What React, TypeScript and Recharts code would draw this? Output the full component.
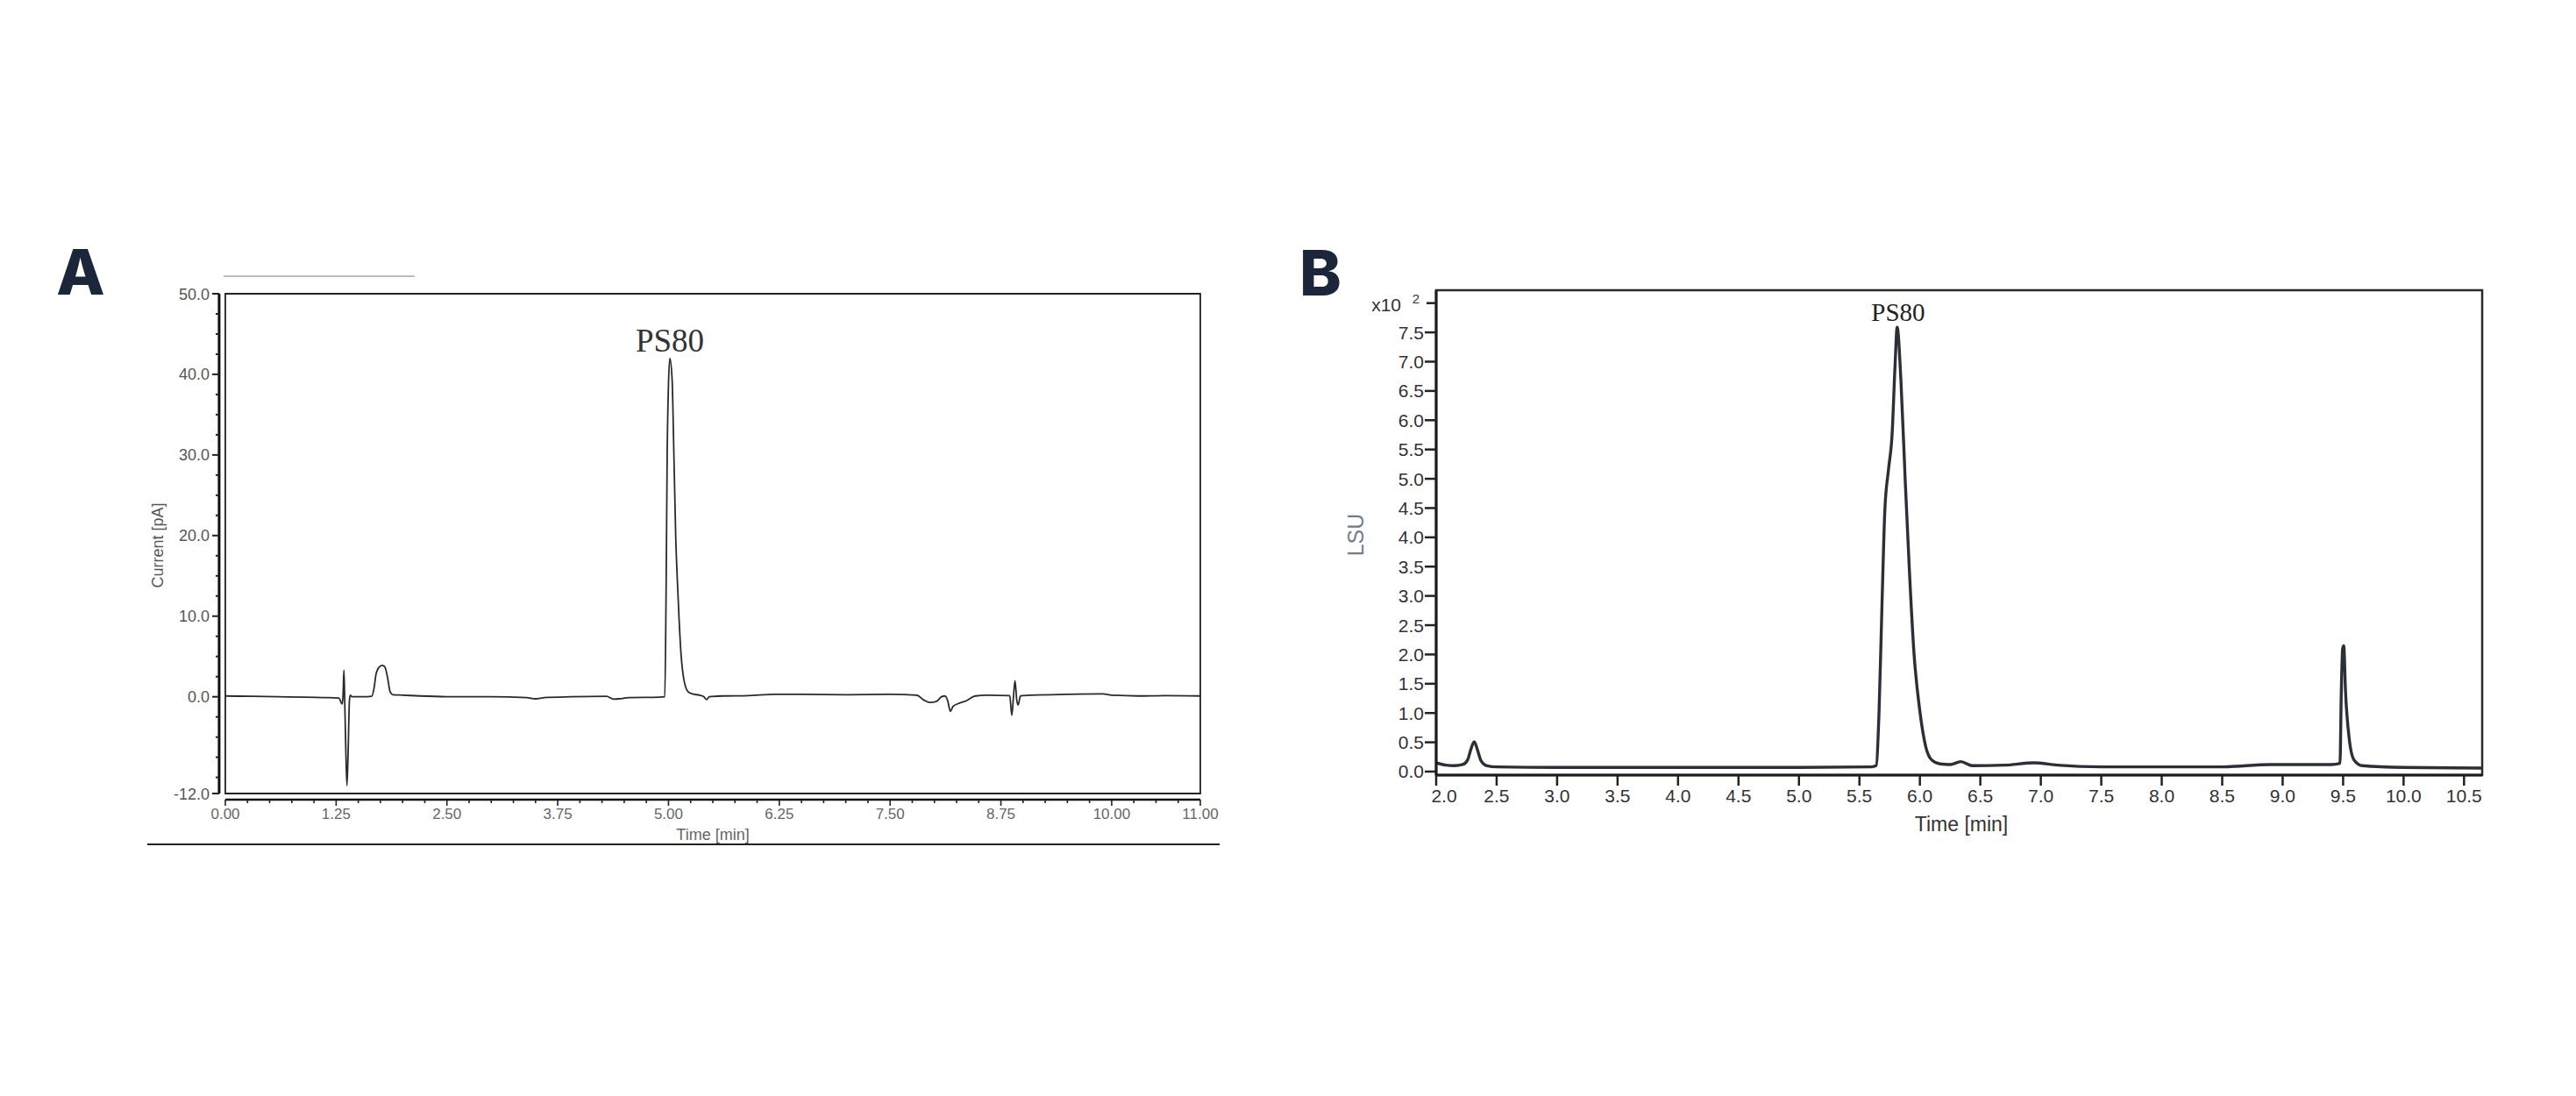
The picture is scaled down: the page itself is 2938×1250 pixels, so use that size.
import React from 'react';
import { LineChart, Line, XAxis, YAxis, ReferenceArea, ReferenceLine } from 'recharts';

// ---- Panel A: CAD trace, current [pA] vs time [min] ----
const A_TIME = [
  0.0, 0.3, 0.6, 0.9, 1.1, 1.28, 1.318, 1.328, 1.338, 1.346, 1.358, 1.372, 1.385, 1.4, 1.41, 1.43,
  1.6, 1.65, 1.68, 1.7, 1.73, 1.77, 1.8, 1.83, 1.86, 1.89, 2.0, 2.2, 2.6, 3.0, 3.4, 3.5, 3.6, 3.9,
  4.3, 4.38, 4.45, 4.55, 4.9, 4.958, 4.972, 4.985, 4.999, 5.015, 5.041, 5.057, 5.081, 5.107, 5.14,
  5.174, 5.223, 5.272, 5.35, 5.4, 5.43, 5.46, 5.6, 5.9, 6.2, 6.5, 7.0, 7.5, 7.8, 7.88, 7.95, 8.02,
  8.08, 8.12, 8.15, 8.18, 8.21, 8.28, 8.36, 8.46, 8.6, 8.85, 8.873, 8.892, 8.909, 8.929, 8.945,
  8.971, 9.1, 9.5, 9.9, 10.0, 10.3, 10.6, 11.0,
];
const A_CURRENT = [
  0.1, 0.05, 0.0, -0.05, -0.1, -0.15, -0.9, 0.2, 3.3, 0.0, -6.0, -11.0, -7.0, -0.5, 0.2, 0.0,
  0.0, 0.05, 1.2, 2.8, 3.6, 3.9, 3.7, 2.4, 0.6, 0.25, 0.2, 0.1, 0.0, 0.0, -0.1, -0.25, -0.1, 0.0,
  0.05, -0.3, -0.25, -0.1, -0.05, 0.0, 12.0, 30.0, 38.5, 42.0, 39.3, 32.0, 20.0, 12.7, 5.5,
  2.1, 0.6, 0.35, 0.2, 0.0, -0.35, 0.0, 0.1, 0.15, 0.3, 0.3, 0.25, 0.3, 0.2, -0.4, -0.7, -0.6,
  0.0, 0.1, -0.5, -1.8, -1.2, -0.8, -0.5, 0.1, 0.2, 0.15, -2.3, 0.0, 2.0, -0.4, -1.0,
  0.1, 0.2, 0.3, 0.35, 0.2, 0.1, 0.15, 0.1,
];
const A_X_LABELS = [0, 1.25, 2.5, 3.75, 5, 6.25, 7.5, 8.75, 10, 11];
const A_Y_LABELS = [-12, 0, 10, 20, 30, 40, 50];
const A_X_TICKS: number[] = [];
for (let i = 0; i <= 44; i++) A_X_TICKS.push(i * 0.25);
const A_Y_TICKS: number[] = [-12];
for (let i = -4; i <= 20; i++) A_Y_TICKS.push(i * 2.5);

// ---- Panel B: FLD trace, LSU (x10^2) vs time [min] ----
const B_TIME = [
  2.0, 2.08, 2.15, 2.22, 2.26, 2.29, 2.315, 2.34, 2.37, 2.42, 2.5, 3.0, 4.0, 5.0, 5.6, 5.638,
  5.662, 5.686, 5.71, 5.74, 5.77, 5.795, 5.812, 5.843, 5.879, 5.915, 5.951, 6.0, 6.048, 6.097,
  6.169, 6.25, 6.338, 6.435, 6.7, 6.942, 7.136, 7.5, 8.0, 8.5, 8.9, 9.4, 9.474, 9.485, 9.496,
  9.505, 9.52, 9.55, 9.59, 9.66, 10.0, 10.65,
];
const B_LSU = [
  0.15, 0.11, 0.1, 0.12, 0.2, 0.4, 0.51, 0.38, 0.19, 0.1, 0.08, 0.07, 0.07, 0.07, 0.08, 0.1,
  1.0, 2.8, 4.45, 5.15, 5.75, 6.95, 7.59, 6.69, 4.96, 3.36, 2.03, 1.03, 0.43, 0.2,
  0.13, 0.12, 0.17, 0.1, 0.11, 0.15, 0.11, 0.08, 0.08, 0.08, 0.12, 0.12, 0.14, 1.36, 2.1,
  2.15, 1.36, 0.57, 0.2, 0.1, 0.07, 0.06,
];
const B_X_TICKS = [2.0, 2.5, 3.0, 3.5, 4.0, 4.5, 5.0, 5.5, 6.0, 6.5, 7.0, 7.5, 8.0, 8.5, 9.0, 9.5, 10.0, 10.5];
const B_Y_TICKS = [0, 0.5, 1.0, 1.5, 2.0, 2.5, 3.0, 3.5, 4.0, 4.5, 5.0, 5.5, 6.0, 6.5, 7.0, 7.5, 8.0];

const aData = A_TIME.map((t, i) => ({ t, v: A_CURRENT[i] }));
const bData = B_TIME.map((t, i) => ({ t, v: B_LSU[i] }));

const SANS = '"Liberation Sans", Arial, sans-serif';
const SERIF = '"Liberation Serif", "Times New Roman", serif';

// axis lines of panel A sit a few px outside the frame
const A_GAP_X = 0.07;
const A_GAP_Y = 0.76;

const AXTick = (props: any) => {
  const { x, y, payload } = props;
  const v = payload.value;
  const major = A_X_LABELS.includes(v);
  const ay = y + 7;
  return (
    <g>
      <line x1={x} x2={x} y1={ay} y2={ay + (major ? 7 : 4)} stroke="#222" strokeWidth={1.6} />
      {major && (
        <text x={x} y={y + 29} textAnchor="middle" fontSize={17} fill="#666" fontFamily={SANS}>
          {v.toFixed(2)}
        </text>
      )}
    </g>
  );
};

const AYTick = (props: any) => {
  const { x, y, payload } = props;
  const v = payload.value;
  const major = A_Y_LABELS.includes(v);
  const ax = x - 7;
  return (
    <g>
      <line x1={ax} x2={ax - (major ? 8 : 4)} y1={y} y2={y} stroke="#222" strokeWidth={2} />
      {major && (
        <text x={ax - 11} y={y + 6.5} textAnchor="end" fontSize={18} fill="#555" fontFamily={SANS}>
          {v.toFixed(1)}
        </text>
      )}
    </g>
  );
};

const BXTick = (props: any) => {
  const { x, y, payload, index } = props;
  const v = payload.value;
  return (
    <g>
      <line x1={x} x2={x} y1={y} y2={y + 12} stroke="#222" strokeWidth={2.5} />
      <text x={x + (index === 0 ? 9 : 0)} y={y + 30.5} textAnchor="middle" fontSize={21} fill="#333" fontFamily={SANS}>
        {v.toFixed(1)}
      </text>
    </g>
  );
};

const BYTick = (props: any) => {
  const { x, y, payload } = props;
  const v = payload.value;
  if (v === 8) {
    return (
      <g>
        <line x1={x} x2={x - 11} y1={y} y2={y} stroke="#222" strokeWidth={2.5} />
        <text x={x - 40} y={y + 9.5} textAnchor="end" fontSize={21} fill="#333" fontFamily={SANS}>x10</text>
        <text x={x - 19} y={y + 0.5} textAnchor="end" fontSize={15} fill="#333" fontFamily={SANS}>2</text>
      </g>
    );
  }
  return (
    <g>
      <line x1={x} x2={x - 13} y1={y} y2={y} stroke="#222" strokeWidth={2.5} />
      <text x={x - 14} y={y + 7.5} textAnchor="end" fontSize={21} fill="#333" fontFamily={SANS}>
        {v.toFixed(1)}
      </text>
    </g>
  );
};

const Txt = ({ x, y, size, color, family, weight, rotate, children }: any) => (
  <div
    style={{
      position: 'absolute',
      left: x,
      top: y,
      transform: `translate(-50%, -50%)${rotate ? ' rotate(-90deg)' : ''}`,
      fontSize: size,
      lineHeight: 1,
      color,
      fontFamily: family,
      fontWeight: weight || 400,
      whiteSpace: 'nowrap',
    }}
  >
    {children}
  </div>
);

export default function App() {
  return (
    <div style={{ position: 'absolute', left: 0, top: 0, width: 2938, height: 1250, background: '#fff', overflow: 'hidden' }}>
      {/* panel letters */}
      <Txt x={92} y={310} size={72} color="#1c263a" family="Inter, 'Open Sans', sans-serif" weight={800}>A</Txt>
      <Txt x={1506} y={311} size={72} color="#1c263a" family="Inter, 'Open Sans', sans-serif" weight={800}>B</Txt>

      {/* decoration lines of panel A */}
      <div style={{ position: 'absolute', left: 255, top: 314, width: 218, height: 1.5, background: '#bdbdbd' }} />
      <div style={{ position: 'absolute', left: 168, top: 962, width: 1223, height: 2, background: '#222' }} />

      {/* Panel A */}
      <div style={{ position: 'absolute', left: 0, top: 0 }}>
        <LineChart width={1469} height={1250} data={aData} margin={{ top: 335, right: 100, bottom: 285, left: 177 }}>
          <XAxis
            type="number"
            dataKey="t"
            domain={[0, 11]}
            allowDataOverflow
            ticks={A_X_TICKS}
            interval={0}
            tickLine={false}
            axisLine={false}
            tickSize={0}
            tickMargin={0}
            height={60}
            tick={<AXTick />}
          />
          <YAxis
            type="number"
            domain={[-12, 50]}
            allowDataOverflow
            ticks={A_Y_TICKS}
            interval={0}
            tickLine={false}
            axisLine={false}
            tickSize={0}
            tickMargin={0}
            width={80}
            tick={<AYTick />}
          />
          <ReferenceArea x1={0} x2={11} y1={-12} y2={50} fill="none" stroke="#222" strokeWidth={1.8} ifOverflow="visible" />
          <ReferenceLine
            segment={[{ x: -A_GAP_X, y: -12 }, { x: -A_GAP_X, y: 50 }]}
            stroke="#111"
            strokeWidth={3}
            ifOverflow="visible"
          />
          <ReferenceLine
            segment={[{ x: 0, y: -12 - A_GAP_Y }, { x: 11, y: -12 - A_GAP_Y }]}
            stroke="#111"
            strokeWidth={2.5}
            ifOverflow="visible"
          />
          <Line type="monotone" dataKey="v" stroke="#2a2a2a" strokeWidth={1.8} dot={false} activeDot={false} isAnimationActive={false} />
        </LineChart>
      </div>

      {/* Panel B */}
      <div style={{ position: 'absolute', left: 1469, top: 0 }}>
        <LineChart width={1469} height={1250} data={bData} margin={{ top: 331, right: 107, bottom: 306, left: 89 }}>
          <XAxis
            type="number"
            dataKey="t"
            domain={[2, 10.65]}
            allowDataOverflow
            ticks={B_X_TICKS}
            interval={0}
            tickLine={false}
            axisLine={{ stroke: '#1a1a1a', strokeWidth: 3 }}
            tickSize={0}
            tickMargin={0}
            height={60}
            tick={<BXTick />}
          />
          <YAxis
            type="number"
            domain={[-0.06, 8.22]}
            allowDataOverflow
            ticks={B_Y_TICKS}
            interval={0}
            tickLine={false}
            axisLine={{ stroke: '#1a1a1a', strokeWidth: 3 }}
            tickSize={0}
            tickMargin={0}
            width={80}
            tick={<BYTick />}
          />
          <ReferenceArea x1={2} x2={10.65} y1={-0.06} y2={8.22} fill="none" stroke="#2a2a2a" strokeWidth={2.5} ifOverflow="visible" />
          <Line type="monotone" dataKey="v" stroke="#2b2f38" strokeWidth={3.4} dot={false} activeDot={false} isAnimationActive={false} />
        </LineChart>
      </div>

      {/* axis titles and peak labels */}
      <Txt x={180} y={622} size={18} color="#555" family={SANS} rotate>Current [pA]</Txt>
      <Txt x={813} y={952} size={18} color="#666" family={SANS}>Time [min]</Txt>
      <Txt x={764} y={388} size={37} color="#333" family={SERIF}>PS80</Txt>

      <Txt x={1546} y={610} size={25} color="#6f7d92" family={SANS} rotate>LSU</Txt>
      <Txt x={2237} y={940} size={23} color="#333" family={SANS}>Time [min]</Txt>
      <Txt x={2165} y={356} size={29} color="#222" family={SERIF}>PS80</Txt>
    </div>
  );
}
